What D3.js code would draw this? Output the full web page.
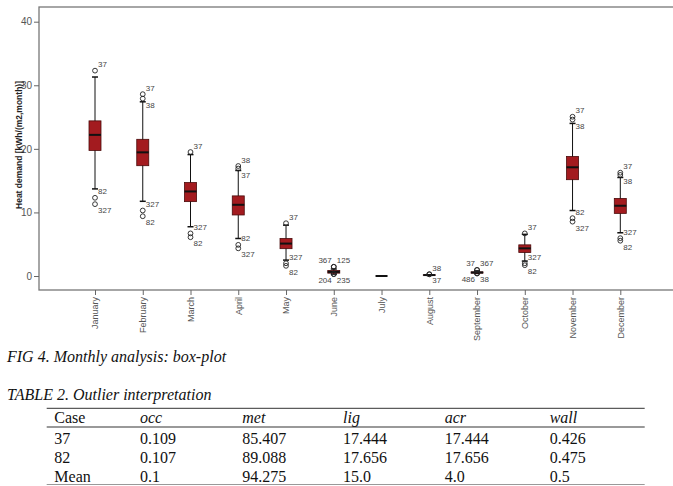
<!DOCTYPE html>
<html>
<head>
<meta charset="utf-8">
<script src="https://cdn.jsdelivr.net/npm/d3@7/dist/d3.min.js"></script>
<style>
  body { margin: 0; background: #fff; }
  svg { display: block; }
</style>
</head>
<body>
<div class="board"></div>
<script>
// box-plot data, one entry per month
var months = ["January", "February", "March", "April", "May", "June",
  "July", "August", "September", "October", "November", "December"];
var whiskerLow  = [13.7, 11.75, 7.75, 5.9, 2.5, 0.3, 0.0, 0.1, 0.4, 2.35, 10.3, 6.8];
var q1          = [19.75, 17.35, 11.7, 9.6, 4.3, 0.45, 0.0, 0.12, 0.45, 3.7, 15.15, 9.85];
var medians     = [22.2, 19.45, 13.3, 11.2, 5.1, 0.65, 0.0, 0.15, 0.55, 4.35, 17.1, 11.05];
var q3          = [24.4, 21.5, 14.7, 12.6, 5.9, 0.85, 0.0, 0.18, 0.65, 4.9, 18.8, 12.2];
var whiskerHigh = [31.3, 27.4, 19.1, 16.6, 8.0, 1.1, 0.0, 0.2, 0.8, 6.55, 24.0, 15.5];

// outliers: [value, case label, label side]  a = above-right, b = below-right, al/bl = left
var outliers = [
  [[32.3, "37", "a"], [12.3, "82", "a"], [11.3, "327", "b"]],
  [[28.6, "37", "a"], [27.9, "38", "b"], [10.3, "327", "a"], [9.4, "82", "b"]],
  [[19.5, "37", "a"], [6.7, "327", "a"], [6.1, "82", "b"]],
  [[17.3, "38", "a"], [16.9, "37", "b"], [4.9, "82", "a"], [4.35, "327", "b"]],
  [[8.3, "37", "a"], [2.0, "327", "a"], [1.6, "82", "b"]],
  [[1.45, "125", "a"], [1.45, "367", "al"], [0.3, "235", "b"], [0.3, "204", "bl"]],
  [],
  [[0.27, "38", "a"], [0.27, "37", "b"]],
  [[0.95, "367", "a"], [0.95, "37", "al"], [0.4, "38", "b"], [0.4, "486", "bl"]],
  [[6.7, "37", "a"], [2.0, "327", "a"], [1.7, "82", "b"]],
  [[25.05, "37", "a"], [24.6, "38", "b"], [9.1, "82", "a"], [8.55, "327", "b"]],
  [[16.25, "37", "a"], [15.9, "38", "b"], [5.95, "327", "a"], [5.55, "82", "b"]]
];
var yTicks = [0, 10, 20, 30, 40];

// table under the chart
var tableHeader = ["Case", "occ", "met", "lig", "acr", "wall"];
var tableRows = [
  ["37", "0.109", "85.407", "17.444", "17.444", "0.426"],
  ["82", "0.107", "89.088", "17.656", "17.656", "0.475"],
  ["Mean", "0.1", "94.275", "15.0", "4.0", "0.5"]
];

var W = 673, H = 486;
var frame = { left: 39, top: 7, bottom: 290, right: 676 };

var svg = d3.select(".board").append("svg")
  .attr("width", W)
  .attr("height", H);

var x = d3.scalePoint().domain(months).range([95, 620.3]);
var y = d3.scaleLinear().domain([0, 40]).range([276, 21.7]);

var sans = "'Liberation Sans', Arial, sans-serif";
var serif = "'Liberation Serif', 'Times New Roman', serif";

// frame
svg.append("rect")
  .attr("x", frame.left).attr("y", frame.top)
  .attr("width", frame.right - frame.left).attr("height", frame.bottom - frame.top)
  .attr("fill", "none").attr("stroke", "#777").attr("stroke-width", 1.3);

// y axis
var yAxis = svg.append("g")
  .attr("transform", "translate(" + frame.left + ",0)")
  .call(d3.axisLeft(y).tickValues(yTicks).tickSize(5).tickPadding(2));
yAxis.select(".domain").remove();
yAxis.selectAll("line").attr("stroke", "#666");
yAxis.selectAll("text").attr("fill", "#555").style("font", "10px " + sans);

// x axis
var xAxis = svg.append("g")
  .attr("transform", "translate(0," + frame.bottom + ")")
  .call(d3.axisBottom(x).tickSize(5).tickPadding(2));
xAxis.select(".domain").remove();
xAxis.selectAll("line").attr("stroke", "#666");
xAxis.selectAll("text")
  .attr("fill", "#555")
  .style("font", "9px " + sans)
  .attr("text-anchor", "end")
  .attr("transform", "rotate(-90)")
  .attr("x", -7).attr("y", 0).attr("dy", "0.32em");

// y title
svg.append("text")
  .attr("transform", "translate(21.5,145) rotate(-90)")
  .attr("text-anchor", "middle")
  .style("font", "bold 8.5px " + sans)
  .attr("fill", "#222")
  .text("Heat demand [kWh/(m2,month)]");

var boxW = 12, capW = 6;
var boxes = svg.append("g");

months.forEach(function (m, i) {
  var cx = x(m);
  var g = boxes.append("g");
  // whiskers
  g.append("line").attr("x1", cx).attr("x2", cx)
    .attr("y1", y(whiskerHigh[i])).attr("y2", y(whiskerLow[i]))
    .attr("stroke", "#111").attr("stroke-width", 1);
  [whiskerHigh[i], whiskerLow[i]].forEach(function (v) {
    g.append("line").attr("x1", cx - capW / 2).attr("x2", cx + capW / 2)
      .attr("y1", y(v)).attr("y2", y(v))
      .attr("stroke", "#111").attr("stroke-width", 1.5);
  });
  // box
  g.append("rect")
    .attr("x", cx - boxW / 2).attr("width", boxW)
    .attr("y", y(q3[i])).attr("height", Math.max(0, y(q1[i]) - y(q3[i])))
    .attr("fill", "#a31b1f").attr("stroke", "#4a0b0b").attr("stroke-width", 0.8);
  // median
  g.append("line").attr("x1", cx - boxW / 2).attr("x2", cx + boxW / 2)
    .attr("y1", y(medians[i])).attr("y2", y(medians[i]))
    .attr("stroke", "#111").attr("stroke-width", 2);

  // outliers
  outliers[i].forEach(function (o) {
    var cy = y(o[0]);
    g.append("circle").attr("cx", cx).attr("cy", cy).attr("r", 2.4)
      .attr("fill", "none").attr("stroke", "#222").attr("stroke-width", 0.9);
    var side = o[2];
    var left = side.length > 1;
    g.append("text")
      .attr("x", left ? cx - 2 : cx + 3)
      .attr("y", side[0] === "a" ? cy - 3.5 : cy + 9)
      .attr("text-anchor", left ? "end" : "start")
      .style("font", "8px " + sans)
      .attr("fill", "#444")
      .text(o[1]);
  });
});

// caption
svg.append("text")
  .attr("x", 7).attr("y", 361.5)
  .style("font", "italic 16px " + serif)
  .attr("fill", "#111")
  .text("FIG 4. Monthly analysis: box-plot");

svg.append("text")
  .attr("x", 7).attr("y", 400)
  .style("font", "italic 16px " + serif)
  .attr("fill", "#111")
  .text("TABLE 2. Outlier interpretation");

// table
var colX = [54.3, 140, 242.3, 343, 444.7, 549.7];
var ruleL = 46.7, ruleR = 644.7;
svg.append("line").attr("x1", ruleL).attr("x2", ruleR).attr("y1", 408.3).attr("y2", 408.3)
  .attr("stroke", "#333").attr("stroke-width", 1);
svg.append("line").attr("x1", ruleL).attr("x2", ruleR).attr("y1", 427).attr("y2", 427)
  .attr("stroke", "#777").attr("stroke-width", 1.5);
svg.append("line").attr("x1", ruleL).attr("x2", ruleR).attr("y1", 484.5).attr("y2", 484.5)
  .attr("stroke", "#999").attr("stroke-width", 1);

svg.append("g").selectAll("text").data(tableHeader).join("text")
  .attr("x", function (d, i) { return colX[i]; })
  .attr("y", 423.3)
  .style("font", function (d, i) { return (i === 0 ? "" : "italic ") + "16px " + serif; })
  .attr("fill", "#111")
  .text(function (d) { return d; });

var rowY = [444.3, 463.3, 482];
tableRows.forEach(function (row, r) {
  svg.append("g").selectAll("text").data(row).join("text")
    .attr("x", function (d, i) { return colX[i]; })
    .attr("y", rowY[r])
    .style("font", "16px " + serif)
    .attr("fill", "#111")
    .text(function (d) { return d; });
});
</script>
</body>
</html>
